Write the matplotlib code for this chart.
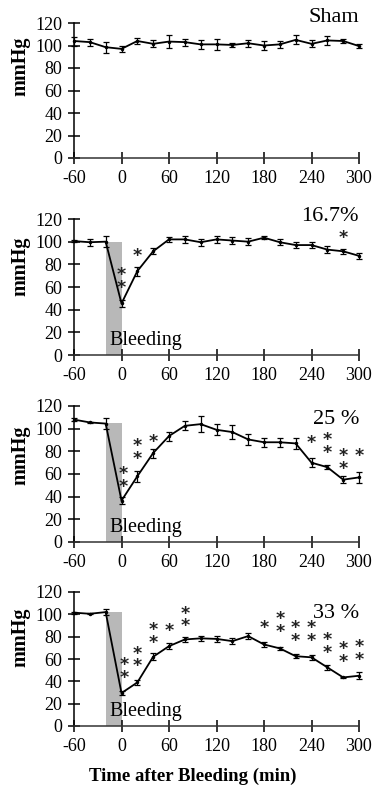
import matplotlib
matplotlib.use("Agg")
import matplotlib.pyplot as plt
import numpy as np

plt.rcParams['font.family'] = ['Liberation Serif', 'DejaVu Serif']
plt.rcParams['axes.unicode_minus'] = False

time = [-60, -40, -20, 0, 20, 40, 60, 80, 100, 120, 140, 160, 180, 200, 220, 240, 260, 280, 300]

sham = [104, 103, 98.5, 97, 104, 101.5, 103.5, 103, 101, 101, 100.5, 102, 100, 101, 105, 101.5, 104.5, 104, 99.5]
sham_err = [4, 3, 5, 3, 3, 3, 6, 3, 4, 5, 1.5, 3, 4, 3, 4, 3, 4, 1.5, 2]

p167 = [100.5, 99.5, 100, 45.5, 74, 91.5, 102, 102, 99.5, 102, 101, 100, 103.5, 99.5, 97, 97, 93, 91.5, 87.5]
p167_err = [1, 3, 5, 3, 4, 2.5, 2.5, 3, 3, 3, 3, 3, 1.5, 2.5, 2.5, 3, 3, 2, 2.5]

p25 = [108, 105.5, 104.5, 36.5, 58, 78.5, 93.5, 102.5, 104, 99, 97, 90.5, 88, 88, 87, 70, 66, 55, 57]
p25_err = [1, 0.5, 5, 3, 5, 4, 4, 4, 7, 5, 6, 5, 4, 4, 5, 4, 2, 3, 5]

p33 = [101.5, 100.5, 102, 29.5, 39, 62, 71.5, 77.5, 78.5, 78, 76, 80.5, 73, 69.5, 62.5, 61.5, 52.5, 43.5, 45]
p33_err = [1, 0.5, 3, 2, 2, 3, 2.5, 2, 2.5, 3, 2.5, 3, 2, 1, 2, 2, 2, 0.5, 3]

panel_titles = ["Sham", "16.7%", "25 %", "33 %"]
title_baselines = [121, 118, 104.5, 96.5]
bleed_heights = [None, 100, 105, 102]

# significance stars: (time, center mmHg, count)
stars_167 = [(0, 65, 2), (20, 87, 1), (280, 103, 1)]
stars_25 = [(2, 54, 2), (20, 79, 2), (40, 88, 1), (240, 87, 1), (260, 84, 2), (280, 70, 2), (300, 76, 1)]
stars_33 = [(3, 49, 2), (20, 59, 2), (40, 80, 2), (60, 85, 1), (80, 95, 2),
            (180, 88, 1), (200, 90, 2), (220, 82, 2), (240, 82, 2), (260, 71, 2), (280, 63, 2), (300, 65, 2)]

xticks = [-60, 0, 60, 120, 180, 240, 300]
yticks = [0, 20, 40, 60, 80, 100, 120]

W, H = 372, 793
fig = plt.figure(figsize=(W / 100, H / 100), dpi=100)

panels = [(sham, sham_err, []), (p167, p167_err, stars_167), (p25, p25_err, stars_25), (p33, p33_err, stars_33)]
# (top px, bottom px, ylabel center px)
boxes = [(23, 158, 66), (219, 355, 266), (406, 542, 455), (592, 726, 637)]
left_px, right_px = 74, 359

for i, ((vals, errs, stars), (top, bot, ylc)) in enumerate(zip(panels, boxes)):
    ax = fig.add_axes([left_px / W, 1 - bot / H, (right_px - left_px) / W, (bot - top) / H])
    bh = bleed_heights[i]
    if bh is not None:
        ax.bar([-10], [bh], width=20, color='#b8b8b8', zorder=1)
        ax.text(-15, 9, "Bleeding", fontsize=14.5, ha='left', va='baseline', zorder=3)
    ax.errorbar(time, vals, yerr=errs, color='black', lw=1.3, elinewidth=0.9,
                capsize=2.5, capthick=0.9, zorder=2, clip_on=False)
    ax.plot(time, vals, 'o', color='black', ms=1.5, zorder=2, clip_on=False)
    for (sx, sy, n) in stars:
        txt = "*" if n == 1 else "*\n*"
        ax.text(sx, sy, txt, ha='center', va='center', fontsize=12.5, fontweight='bold',
                linespacing=0.62, family='DejaVu Sans', color='#222222')
    ax.set_xlim(-60, 300)
    ax.set_ylim(0, 120)
    ax.set_xticks(xticks)
    ax.set_yticks(yticks)
    ax.spines['top'].set_visible(False)
    ax.spines['right'].set_visible(False)
    ax.spines['left'].set_linewidth(1.1)
    ax.spines['bottom'].set_linewidth(1.1)
    ax.spines['bottom'].set_color('#333333')
    ax.tick_params(axis='both', direction='inout', length=9, width=1.1, labelsize=13)
    ax.tick_params(axis='x', pad=4)
    ax.tick_params(axis='y', pad=4)
    ax.patch.set_alpha(0)
    ax.text(300, title_baselines[i], panel_titles[i], ha='right', va='baseline', fontsize=16)
    fig.text(20 / W, 1 - ylc / H, "mmHg", rotation=90, ha='center', va='center',
             fontsize=14.5, fontweight='bold')

fig.text(193 / W, 1 - 776 / H, "Time after Bleeding (min)", ha='center', va='center',
         fontsize=13.5, fontweight='bold')

fig.savefig("out.png", dpi=100)
